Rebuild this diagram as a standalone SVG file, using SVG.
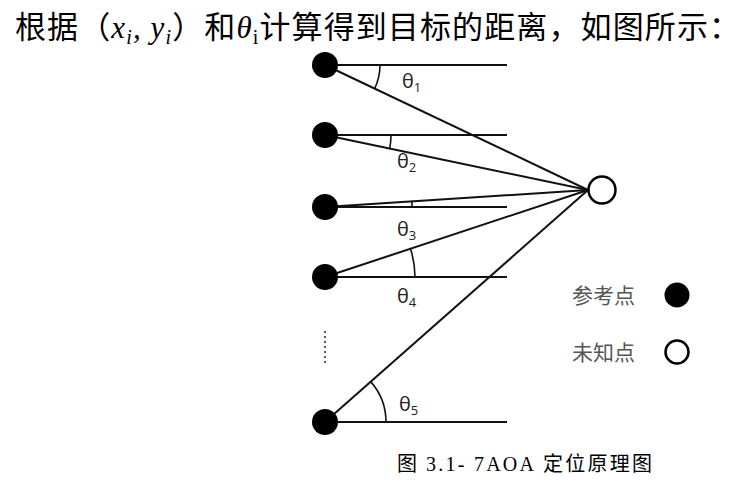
<svg xmlns="http://www.w3.org/2000/svg" width="755" height="483" viewBox="0 0 755 483">
<style>
.ln{stroke:#111;stroke-width:2;fill:none}
.arc{stroke:#111;stroke-width:1.6;fill:none}
.ref{fill:#000}
.unk{fill:#fff;stroke:#000;stroke-width:2.5}
.th{font-family:"Open Sans","DejaVu Sans",sans-serif;font-size:20px;fill:#222}
.sub{font-size:13px}
.cjk{font-family:"Noto Sans CJK SC",sans-serif}
</style>
<rect width="755" height="483" fill="#fff"/>
<text x="15" y="38" font-size="31" class="cjk" fill="#000" textLength="725" lengthAdjust="spacing">根据（<tspan font-family="Liberation Serif,serif" font-style="italic">x<tspan font-size="20" dy="6">i</tspan><tspan dy="-6">, y</tspan><tspan font-size="20" dy="6">i</tspan></tspan><tspan dy="-6">）和</tspan><tspan font-family="Liberation Serif,serif" font-style="italic">θ</tspan><tspan font-family="Liberation Serif,serif" font-size="20" dy="6">i</tspan><tspan dy="-6">计算得到目标的距离，如图所示：</tspan></text>
<g id="connectors">
<line class="ln" x1="325" y1="65" x2="507" y2="65"/>
<line class="ln" x1="325" y1="135" x2="507" y2="135"/>
<line class="ln" x1="325" y1="207" x2="507" y2="207"/>
<line class="ln" x1="325" y1="277" x2="507" y2="277"/>
<line class="ln" x1="325" y1="422" x2="507" y2="422"/>
<line class="ln" x1="325" y1="65" x2="588" y2="190"/>
<line class="ln" x1="325" y1="135" x2="588" y2="190"/>
<line class="ln" x1="325" y1="207" x2="588" y2="190"/>
<line class="ln" x1="325" y1="277" x2="588" y2="190"/>
<line class="ln" x1="325" y1="422" x2="588" y2="190"/>
<path class="arc" d="M380,65 A55,55 0 0 1 374.7,88.5"/>
<path class="arc" d="M391,135 A66,66 0 0 1 389.6,148.8"/>
<path class="arc" d="M412,207 A87,87 0 0 0 411.8,201.4"/>
<path class="arc" d="M415,277 A90,90 0 0 0 410.4,248.6"/>
<path class="arc" d="M386,422 A61,61 0 0 0 370.7,381.6"/>
</g>
<g id="theta-labels" class="th">
<text x="402" y="88">θ<tspan class="sub" dy="4">1</tspan></text>
<text x="397" y="168">θ<tspan class="sub" dy="4">2</tspan></text>
<text x="397" y="236">θ<tspan class="sub" dy="4">3</tspan></text>
<text x="397" y="303">θ<tspan class="sub" dy="4">4</tspan></text>
<text x="399" y="411">θ<tspan class="sub" dy="4">5</tspan></text>
</g>
<g id="ref1"><circle class="ref" cx="325" cy="65" r="13"/></g>
<g id="ref2"><circle class="ref" cx="325" cy="135" r="13"/></g>
<g id="ref3"><circle class="ref" cx="325" cy="207" r="13"/></g>
<g id="ref4"><circle class="ref" cx="325" cy="277" r="13"/></g>
<g id="ref5"><circle class="ref" cx="325" cy="422" r="13"/></g>
<g id="unknown"><circle class="unk" cx="602" cy="190" r="13.5"/></g>
<g id="ellipsis" fill="#333">
<circle cx="325" cy="332" r="1.1"/><circle cx="325" cy="337" r="1.1"/><circle cx="325" cy="342" r="1.1"/><circle cx="325" cy="347" r="1.1"/><circle cx="325" cy="352" r="1.1"/><circle cx="325" cy="357" r="1.1"/><circle cx="325" cy="362" r="1.1"/>
</g>
<g id="legend-ref">
<text x="572" y="303" font-size="21" class="cjk" fill="#555">参考点</text>
<circle class="ref" cx="677" cy="295" r="12.5"/>
</g>
<g id="legend-unk">
<text x="572" y="360" font-size="21" class="cjk" fill="#555">未知点</text>
<circle cx="677" cy="352" r="11.5" fill="#fff" stroke="#000" stroke-width="2.5"/>
</g>
<text x="397" y="471" font-size="20" class="cjk" fill="#000" textLength="255" lengthAdjust="spacing">图 <tspan font-family="Liberation Serif,serif"> 3.1- 7AOA</tspan> 定位原理图</text>
</svg>
